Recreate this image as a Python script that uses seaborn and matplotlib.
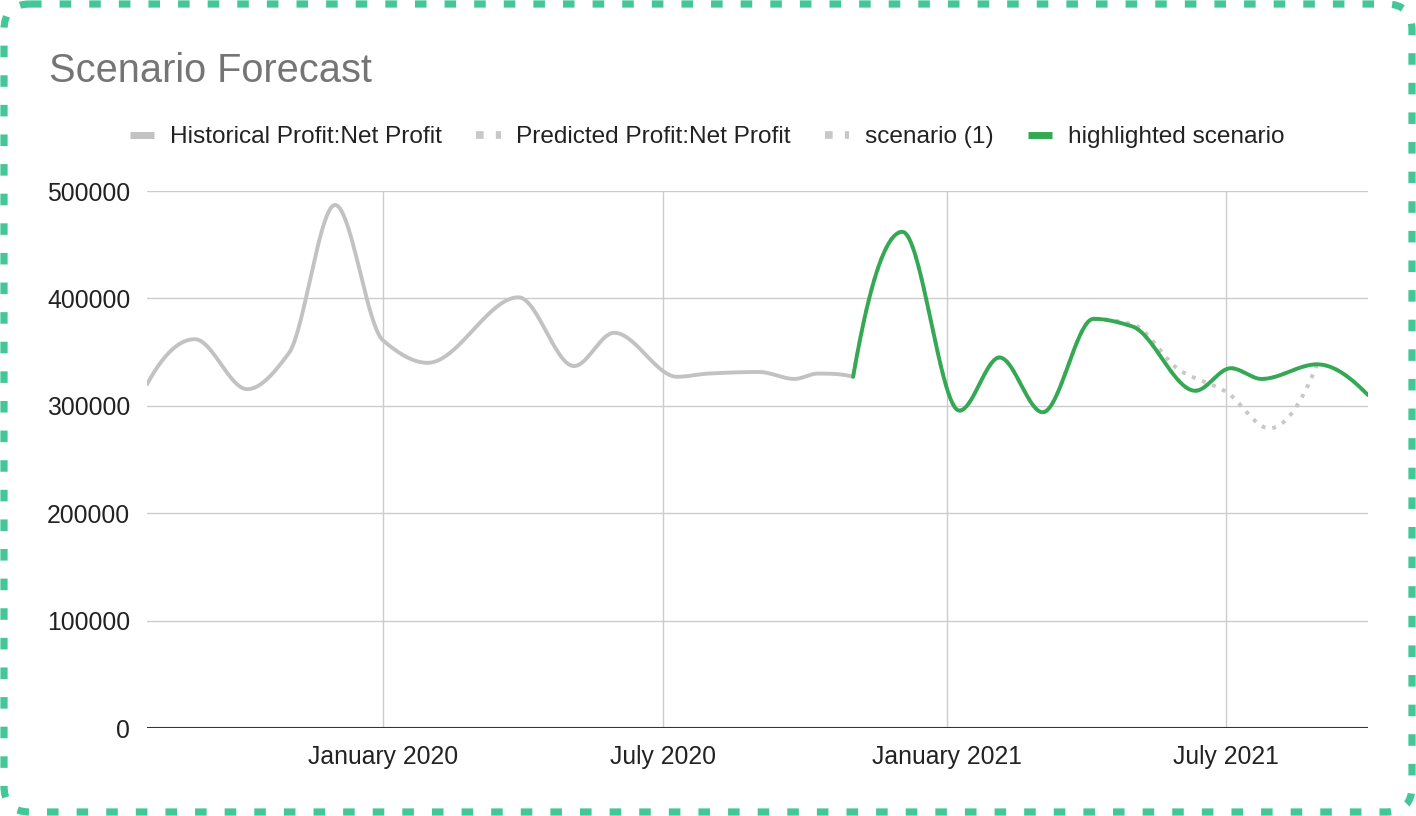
import matplotlib
matplotlib.use("Agg")
import matplotlib.pyplot as plt
import matplotlib.dates as mdates
from matplotlib.patches import FancyBboxPatch
from matplotlib.lines import Line2D
import seaborn as sns
import pandas as pd
import numpy as np

# net profit values (dates where the curve turns)
hist_dates = pd.to_datetime([
    "2019-08-01", "2019-09-01", "2019-10-05", "2019-11-01", "2019-12-01",
    "2020-01-01", "2020-01-30", "2020-03-29", "2020-05-04", "2020-05-30",
    "2020-07-10", "2020-07-30", "2020-09-01", "2020-09-24", "2020-10-09",
    "2020-11-01"])
hist_vals = [320000, 362000, 315500, 349000, 487000,
             361000, 340000, 401000, 337000, 368000,
             327000, 330000, 331500, 325000, 330000,
             327000]

pred_dates = pd.to_datetime([
    "2020-11-01", "2020-12-03", "2021-01-09", "2021-02-04", "2021-03-04",
    "2021-04-06", "2021-05-01", "2021-06-11", "2021-07-04", "2021-07-24",
    "2021-08-29", "2021-10-01"])
pred_vals = [327000, 462000, 295500, 345000, 294000,
             381000, 374000, 314000, 335000, 325000,
             338600, 310000]
highlight_vals = [327000, 462000, 295500, 345000, 294000,
                  381000, 374000, 314000, 335000, 325000,
                  338600, 310000]

scen_dates = pd.to_datetime([
    "2021-04-06", "2021-05-01", "2021-06-01", "2021-07-01", "2021-07-29",
    "2021-08-29"])
scen_vals = [381000, 376000, 333000, 313000, 279000, 338600]

legend_labels = ["Historical Profit:Net Profit", "Predicted Profit:Net Profit",
                 "scenario (1)", "highlighted scenario"]

GRAY = "#c2c2c2"
DOT = "#c8c8c8"
GREEN = "#34a853"


def pchip_slopes(x, y):
    h = np.diff(x)
    d = np.diff(y) / h
    n = len(x)
    m = np.zeros(n)
    for k in range(1, n - 1):
        if d[k - 1] * d[k] <= 0:
            m[k] = 0.0
        else:
            w1 = 2 * h[k] + h[k - 1]
            w2 = h[k] + 2 * h[k - 1]
            m[k] = (w1 + w2) / (w1 / d[k - 1] + w2 / d[k])

    def edge(h0, h1, d0, d1):
        s = ((2 * h0 + h1) * d0 - h0 * d1) / (h0 + h1)
        if np.sign(s) != np.sign(d0):
            return 0.0
        if np.sign(d0) != np.sign(d1) and abs(s) > abs(3 * d0):
            return 3 * d0
        return s

    if n > 2:
        m[0] = edge(h[0], h[1], d[0], d[1])
        m[-1] = edge(h[-1], h[-2], d[-1], d[-2])
    else:
        m[:] = d[0]
    return m


def smooth(dates, vals, steps=40):
    """Monotone cubic curve through the points, like the smoothed line in the source."""
    x = mdates.date2num(dates)
    y = np.asarray(vals, dtype=float)
    m = pchip_slopes(x, y)
    xs, ys = [], []
    t = np.linspace(0, 1, steps, endpoint=False)
    h00 = 2 * t**3 - 3 * t**2 + 1
    h10 = t**3 - 2 * t**2 + t
    h01 = -2 * t**3 + 3 * t**2
    h11 = t**3 - t**2
    for i in range(len(x) - 1):
        h = x[i + 1] - x[i]
        xs.append(x[i] + t * h)
        ys.append(h00 * y[i] + h10 * h * m[i] + h01 * y[i + 1] + h11 * h * m[i + 1])
    xs.append([x[-1]])
    ys.append([y[-1]])
    return mdates.num2date(np.concatenate(xs)), np.concatenate(ys)


sns.set_theme(style="white")
plt.rcParams["font.family"] = ["Liberation Sans", "DejaVu Sans"]

fig = plt.figure(figsize=(14.16, 8.16), dpi=100)
fig.patch.set_facecolor("white")

# dashed rounded frame
bg = fig.add_axes([0, 0, 1, 1], zorder=-1)
bg.set_xlim(0, 1416)
bg.set_ylim(816, 0)
bg.axis("off")
frame = FancyBboxPatch((4, 4), 1408, 808, boxstyle="round,pad=0,rounding_size=26",
                       facecolor="white", edgecolor="#44c797", linewidth=5.2,
                       linestyle=(0, (1.6, 2.5)))
bg.add_patch(frame)

ax = fig.add_axes([147 / 1416, 1 - 728 / 816, (1368 - 147) / 1416, (728 - 191) / 816])
ax.set_facecolor("none")

hx, hy = smooth(hist_dates, hist_vals)
px, py = smooth(pred_dates, pred_vals)
sx, sy = smooth(scen_dates, scen_vals)
gx, gy = smooth(pred_dates, highlight_vals)

sns.lineplot(x=hx, y=hy, ax=ax, color=GRAY, linewidth=2.8, sort=False, zorder=3)
sns.lineplot(x=px, y=py, ax=ax, color=DOT, linewidth=2.8, sort=False, zorder=2,
             linestyle=(0, (1, 1.8)))
sns.lineplot(x=sx, y=sy, ax=ax, color=DOT, linewidth=2.8, sort=False, zorder=3,
             linestyle=(0, (1, 1.8)))
sns.lineplot(x=gx, y=gy, ax=ax, color=GREEN, linewidth=2.8, sort=False, zorder=4)

ax.set_xlim(mdates.date2num(hist_dates[0]), mdates.date2num(pred_dates[-1]))
ax.set_ylim(0, 500000)
ax.set_yticks(np.arange(0, 500001, 100000))
ax.yaxis.set_major_formatter(matplotlib.ticker.FuncFormatter(lambda v, p: f"{int(v)}"))
ax.xaxis.set_major_locator(mdates.MonthLocator(bymonth=[1, 7]))
ax.xaxis.set_major_formatter(mdates.DateFormatter("%B %Y"))

ax.grid(True, color="#cccccc", linewidth=1.0)
ax.set_axisbelow(True)
for s in ax.spines.values():
    s.set_visible(False)
ax.axhline(0, color="#333333", linewidth=1.5, zorder=5)
ax.tick_params(axis="both", length=0, labelsize=17.8, labelcolor="#222222")
ax.tick_params(axis="x", pad=12)
ax.tick_params(axis="y", pad=12)
ax.set_xlabel("")
ax.set_ylabel("")

fig.text(49 / 1416, 1 - 71 / 816, "Scenario Forecast", fontsize=28.6, color="#757575",
         ha="left", va="center")

handles = [
    Line2D([], [], color=GRAY, linewidth=5, solid_capstyle="butt"),
    Line2D([], [], color=DOT, linewidth=5.5, linestyle=(0, (1, 1.6)), dash_capstyle="butt"),
    Line2D([], [], color=DOT, linewidth=5.5, linestyle=(0, (1, 1.6)), dash_capstyle="butt"),
    Line2D([], [], color=GREEN, linewidth=5, solid_capstyle="butt"),
]
fig.legend(handles, legend_labels, loc="center", bbox_to_anchor=(707 / 1416, 1 - 137 / 816),
           ncol=4, frameon=False, fontsize=17.6, handlelength=1.0, handletextpad=0.62,
           columnspacing=1.42, labelcolor="#222222")

fig.savefig("out.png", dpi=100)
